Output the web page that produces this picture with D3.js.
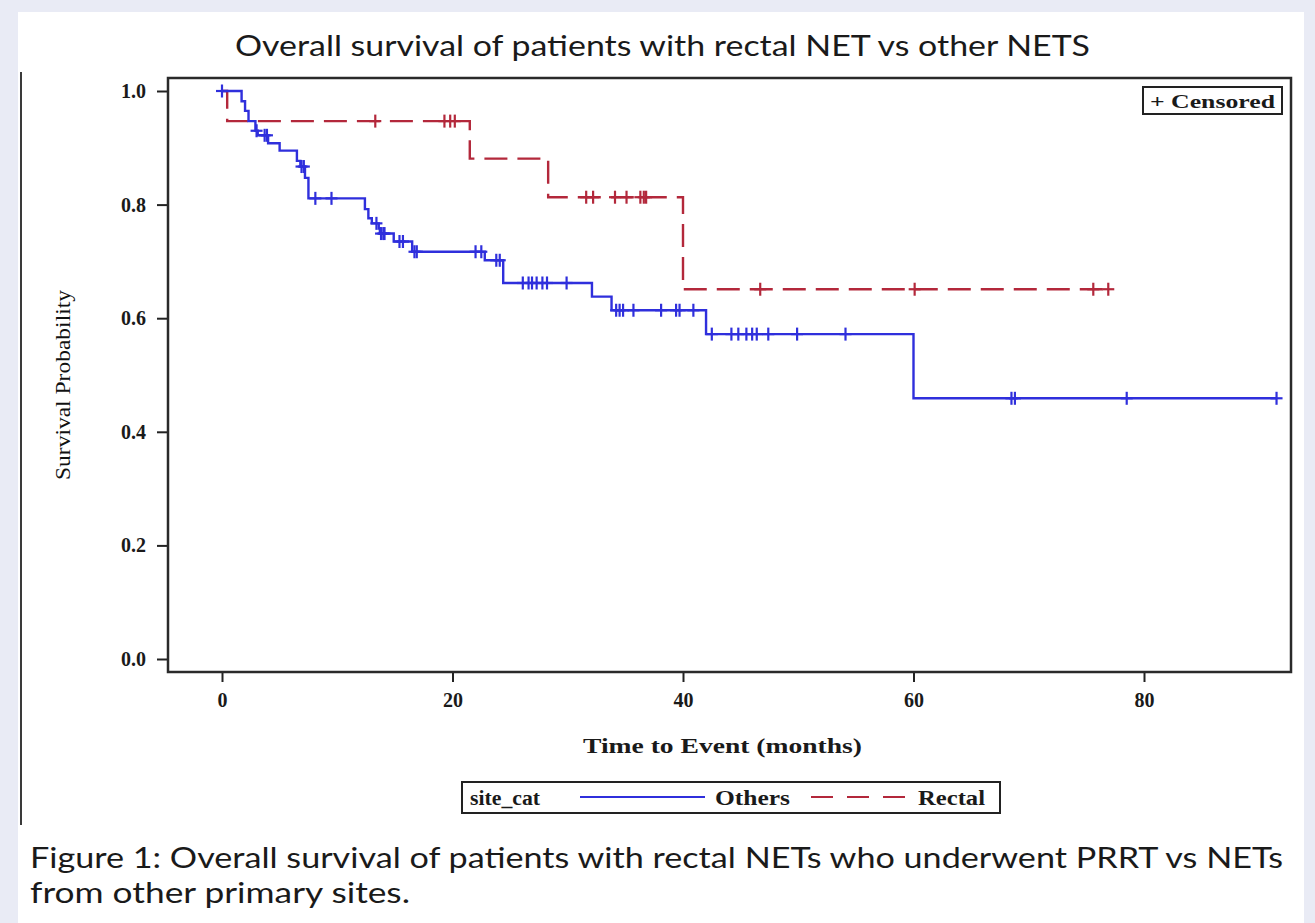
<!DOCTYPE html>
<html>
<head>
<meta charset="utf-8">
<script src="https://cdn.jsdelivr.net/npm/d3@7"></script>
<style>
  html, body { margin: 0; padding: 0; background: #e9ebf5; }
  svg { display: block; }
</style>
</head>
<body>
<script>
// Kaplan-Meier steps: [time in months, survival after the step]
const othersSteps = [
  [0, 1.0], [1.7, 0.982], [2.0, 0.965], [2.3, 0.947], [2.9, 0.930], [3.1, 0.922],
  [4.0, 0.908], [5.0, 0.895], [6.5, 0.877], [6.8, 0.867], [7.2, 0.847], [7.5, 0.811],
  [12.4, 0.792], [12.7, 0.776], [13.0, 0.767], [13.6, 0.758], [13.7, 0.749],
  [14.9, 0.735], [16.5, 0.717], [22.8, 0.702], [24.4, 0.662], [32.1, 0.638],
  [33.8, 0.614], [42.0, 0.572], [60.0, 0.459]
];
const othersEnd = 91.5;
const othersCensored = [
  0, 3.0, 3.7, 3.9, 6.9, 7.1, 8.1, 9.5, 13.4, 13.8, 14.0, 14.1, 15.4, 15.7, 16.7, 16.9,
  22.0, 22.5, 23.8, 24.1, 26.1, 26.6, 26.9, 27.3, 27.8, 28.2, 29.9, 34.2, 34.5, 34.8,
  35.7, 38.1, 39.4, 39.7, 40.9, 42.5, 44.2, 44.8, 45.5, 46.0, 46.4, 47.4, 49.9, 54.1,
  68.5, 68.8, 78.5, 91.5
];

const rectalSteps = [
  [0, 1.0], [0.45, 0.947], [21.5, 0.881], [28.3, 0.813], [40.0, 0.651]
];
const rectalEnd = 77.0;
const rectalCensored = [
  13.3, 19.3, 19.8, 20.2, 31.6, 32.2, 34.1, 35.1, 36.3, 36.6, 36.8, 46.7, 60.1, 75.6, 76.9
];

const xTicks = [0, 20, 40, 60, 80];
const yTicks = [0, 0.2, 0.4, 0.6, 0.8, 1.0];

const titleText = 'Overall survival of patients with rectal NET vs other NETS';
const captionLines = [
  'Figure 1: Overall survival of patients with rectal NETs who underwent PRRT vs NETs',
  'from other primary sites.'
];
const captionWidths = [1253, 380];

const blue = '#2f2fdc';
const red = '#b3283b';
const serif = '"Liberation Serif", "DejaVu Serif", serif';
const sans = 'Lato, "Open Sans", "Noto Sans", sans-serif';

const width = 1315, height = 923;
const frame = { left: 168, right: 1291, top: 78, bottom: 672 };

const svg = d3.select('body').append('svg')
  .attr('width', width)
  .attr('height', height);

svg.append('rect')
  .attr('x', 0).attr('y', 0)
  .attr('width', width).attr('height', height)
  .attr('fill', '#e9ebf5');

svg.append('rect')
  .attr('x', 18).attr('y', 12)
  .attr('width', 1286).attr('height', height - 12)
  .attr('fill', '#ffffff');

// thin rule down the left of the figure
svg.append('line')
  .attr('x1', 21).attr('x2', 21)
  .attr('y1', 72).attr('y2', 825)
  .attr('stroke', '#3a3a3a')
  .attr('stroke-width', 2);

svg.append('text')
  .attr('x', 235).attr('y', 56)
  .attr('font-family', sans)
  .attr('font-size', 29)
  .attr('textLength', 855)
  .attr('lengthAdjust', 'spacingAndGlyphs')
  .attr('fill', '#1a1a1a')
  .text(titleText);

const x = d3.scaleLinear([0, 80], [222, 1144]);
const y = d3.scaleLinear([0, 1], [659, 91]);

// axes
const yAxis = svg.append('g')
  .attr('transform', `translate(${frame.left},0)`)
  .call(d3.axisLeft(y).tickValues(yTicks).tickSize(11).tickPadding(11).tickFormat(d3.format('.1f')));

const xAxis = svg.append('g')
  .attr('transform', `translate(0,${frame.bottom})`)
  .call(d3.axisBottom(x).tickValues(xTicks).tickSize(10).tickPadding(11).tickFormat(d3.format('d')));

[yAxis, xAxis].forEach(a => {
  a.select('.domain').remove();
  a.selectAll('.tick line').attr('stroke', '#222').attr('stroke-width', 2);
  a.selectAll('.tick text')
    .attr('font-family', serif)
    .attr('font-weight', 'bold')
    .attr('font-size', 20)
    .attr('fill', '#1a1a1a');
});

svg.append('rect')
  .attr('x', frame.left).attr('y', frame.top)
  .attr('width', frame.right - frame.left)
  .attr('height', frame.bottom - frame.top)
  .attr('fill', 'none')
  .attr('stroke', '#2a2a2a')
  .attr('stroke-width', 2.5);

svg.append('text')
  .attr('x', 583).attr('y', 753)
  .attr('font-family', serif)
  .attr('font-weight', 'bold')
  .attr('font-size', 22)
  .attr('textLength', 279)
  .attr('lengthAdjust', 'spacingAndGlyphs')
  .attr('fill', '#1a1a1a')
  .text('Time to Event (months)');

svg.append('text')
  .attr('transform', `translate(70,385) rotate(-90)`)
  .attr('text-anchor', 'middle')
  .attr('font-family', serif)
  .attr('font-size', 21)
  .attr('textLength', 190)
  .attr('lengthAdjust', 'spacingAndGlyphs')
  .attr('fill', '#111')
  .text('Survival Probability');

// survival curves
const line = d3.line()
  .x(d => x(d[0]))
  .y(d => y(d[1]))
  .curve(d3.curveStepAfter);

function survAt(steps, t) {
  let s = steps[0][1];
  steps.forEach(p => { if (p[0] <= t) s = p[1]; });
  return s;
}

function drawCurve(steps, end, censored, color, dash) {
  const pts = steps.concat([[end, steps[steps.length - 1][1]]]);
  svg.append('path')
    .attr('d', line(pts))
    .attr('fill', 'none')
    .attr('stroke', color)
    .attr('stroke-width', 2.4)
    .attr('stroke-dasharray', dash);

  const g = svg.append('g')
    .attr('stroke', color)
    .attr('stroke-width', 2.2);
  censored.forEach(t => {
    const cx = x(t), cy = y(survAt(steps, t));
    g.append('line').attr('x1', cx - 6).attr('x2', cx + 6).attr('y1', cy).attr('y2', cy);
    g.append('line').attr('x1', cx).attr('x2', cx).attr('y1', cy - 6.5).attr('y2', cy + 6.5);
  });
}

drawCurve(rectalSteps, rectalEnd, rectalCensored, red, '23,10');
drawCurve(othersSteps, othersEnd, othersCensored, blue, null);

// censored key
svg.append('rect')
  .attr('x', 1143).attr('y', 87)
  .attr('width', 139).attr('height', 27)
  .attr('fill', '#fff')
  .attr('stroke', '#222')
  .attr('stroke-width', 2);
svg.append('text')
  .attr('x', 1150).attr('y', 108)
  .attr('font-family', serif)
  .attr('font-size', 19)
  .attr('font-weight', 'bold')
  .attr('textLength', 125)
  .attr('lengthAdjust', 'spacingAndGlyphs')
  .attr('fill', '#1a1a1a')
  .text('+ Censored');

// group legend
const leg = svg.append('g');
leg.append('rect')
  .attr('x', 462).attr('y', 782)
  .attr('width', 538).attr('height', 31)
  .attr('fill', '#fff')
  .attr('stroke', '#222')
  .attr('stroke-width', 2);

const legendTexts = [
  { label: 'site_cat', x: 470, w: 70 },
  { label: 'Others', x: 715, w: 75 },
  { label: 'Rectal', x: 918, w: 67 }
];
leg.selectAll('text')
  .data(legendTexts)
  .join('text')
  .attr('x', d => d.x).attr('y', 805)
  .attr('font-family', serif)
  .attr('font-weight', 'bold')
  .attr('font-size', 20)
  .attr('textLength', d => d.w)
  .attr('lengthAdjust', 'spacingAndGlyphs')
  .attr('fill', '#1a1a1a')
  .text(d => d.label);

leg.append('line')
  .attr('x1', 580).attr('x2', 705).attr('y1', 797).attr('y2', 797)
  .attr('stroke', blue).attr('stroke-width', 2);
leg.append('line')
  .attr('x1', 811).attr('x2', 906).attr('y1', 797).attr('y2', 797)
  .attr('stroke', red).attr('stroke-width', 2)
  .attr('stroke-dasharray', '22,14');

// figure caption
svg.append('g').selectAll('text')
  .data(captionLines)
  .join('text')
  .attr('x', 30)
  .attr('y', (d, i) => 868 + i * 35)
  .attr('font-family', sans)
  .attr('font-size', 29)
  .attr('textLength', (d, i) => captionWidths[i])
  .attr('lengthAdjust', 'spacingAndGlyphs')
  .attr('fill', '#1a1a1a')
  .text(d => d);
</script>
</body>
</html>
